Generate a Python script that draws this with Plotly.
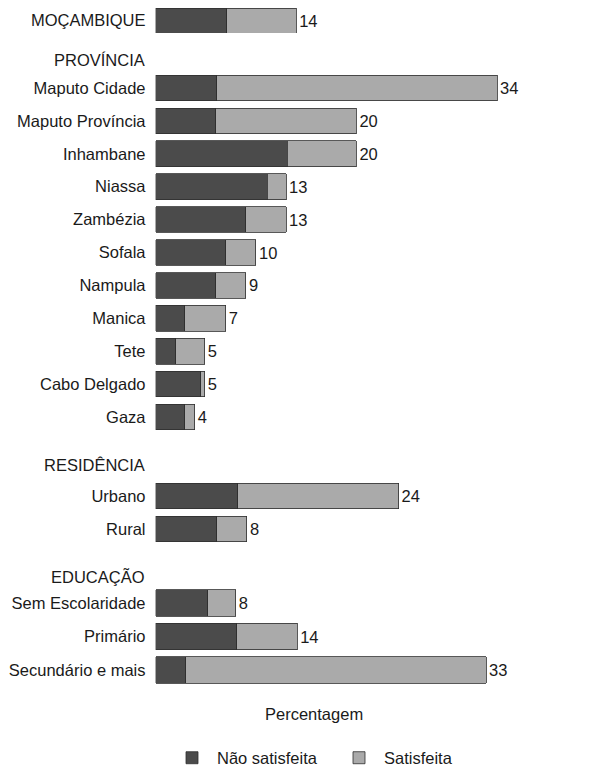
import plotly.graph_objects as go

# ---- data (percent) ----
nacional_cat = ["MOÇAMBIQUE"]
nacional_nao = [7.1]
nacional_sat = [6.9]
nacional_lbl = ["14"]

prov_header = "PROVÍNCIA"
prov_cat = ["Maputo Cidade", "Maputo Província", "Inhambane", "Niassa", "Zambézia",
            "Sofala", "Nampula", "Manica", "Tete", "Cabo Delgado", "Gaza"]
prov_nao = [6.1, 6.0, 13.1, 11.1, 9.0, 7.0, 6.0, 2.9, 2.0, 4.5, 2.9]
prov_sat = [27.9, 14.0, 6.9, 1.9, 4.0, 3.0, 3.0, 4.1, 2.9, 0.4, 1.0]
prov_lbl = ["34", "20", "20", "13", "13", "10", "9", "7", "5", "5", "4"]

res_header = "RESIDÊNCIA"
res_cat = ["Urbano", "Rural"]
res_nao = [8.2, 6.1]
res_sat = [16.0, 3.0]
res_lbl = ["24", "8"]

edu_header = "EDUCAÇÃO"
edu_cat = ["Sem Escolaridade", "Primário", "Secundário e mais"]
edu_nao = [5.2, 8.1, 3.0]
edu_sat = [2.8, 6.0, 29.9]
edu_lbl = ["8", "14", "33"]

DARK = "#4b4b4b"
LIGHT = "#aaaaaa"
FONT = "Liberation Sans, Arial, sans-serif"
FS = 16.5
TXT = "#1a1a1a"

W, H = 603, 764  # page has an 8px body margin

# (header, cats, nao, sat, labels, domain top/bottom px, header centre px, bar width)
groups = [
    (None, nacional_cat, nacional_nao, nacional_sat, nacional_lbl, (0, 25), None, 1.0),
    (prov_header, prov_cat, prov_nao, prov_sat, prov_lbl, (63.5, 425.5), 52, None),
    (res_header, res_cat, res_nao, res_sat, res_lbl, (471.5, 537.5), 457, None),
    (edu_header, edu_cat, edu_nao, edu_sat, edu_lbl, (578.25, 678.75), 568, None),
]

fig = go.Figure()
layout = {}
annotations = []
XL = 147.5
xdom = [XL / W, 589.5 / W]
for i, (hdr, cats, nao, sat, lbl, (top, bot), hy, bw) in enumerate(groups):
    n = "" if i == 0 else str(i + 1)
    xa, ya = "x" + n, "y" + n
    fig.add_trace(go.Bar(
        y=cats, x=nao, orientation="h", name="Não satisfeita", width=bw,
        marker=dict(color=DARK, line=dict(color="#2e2e2e", width=0.8)),
        xaxis=xa, yaxis=ya, showlegend=(i == 0), legendgroup="nao",
    ))
    fig.add_trace(go.Bar(
        y=cats, x=sat, orientation="h", name="Satisfeita", width=bw,
        marker=dict(color=LIGHT, line=dict(color="#2e2e2e", width=0.8)),
        text=lbl, textposition="outside", cliponaxis=False, constraintext="none",
        textfont=dict(family=FONT, size=FS, color=TXT),
        xaxis=xa, yaxis=ya, showlegend=(i == 0), legendgroup="sat",
    ))
    layout["xaxis" + n] = dict(domain=xdom, range=[0, 44], visible=False,
                                anchor=ya, automargin=False,
                                **({} if i == 0 else {"matches": "x"}))
    layout["yaxis" + n] = dict(
        domain=[1 - bot / H, 1 - top / H], anchor=xa, type="category",
        categoryorder="array", categoryarray=cats, range=[len(cats) - 0.5, -0.5],
        showgrid=False, zeroline=False, showline=False, ticks="", automargin=False,
        ticklabelstandoff=9, tickfont=dict(family=FONT, size=FS, color=TXT),
    )
    if hdr:
        annotations.append(dict(text=hdr, x=(XL - 9) / W, y=1 - hy / H, xref="paper", yref="paper",
                                showarrow=False, xanchor="right", yanchor="middle",
                                font=dict(family=FONT, size=FS, color=TXT)))

annotations.append(dict(text="Percentagem", x=306 / W, y=1 - 706 / H, xref="paper", yref="paper",
                        showarrow=False, xanchor="center", yanchor="middle",
                        font=dict(family=FONT, size=FS, color=TXT)))

fig.update_layout(**layout)
fig.update_layout(
    width=W, height=H, barmode="stack", bargap=0.22,
    margin=dict(l=0, r=0, t=0, b=0, autoexpand=False),
    paper_bgcolor="white", plot_bgcolor="white",
    font=dict(family=FONT, size=FS, color=TXT),
    legend=dict(orientation="h", x=159 / W, xanchor="left", y=1 - 750 / H, yanchor="middle",
                font=dict(family=FONT, size=FS, color=TXT), itemwidth=40,
                entrywidth=112, traceorder="normal"),
    annotations=annotations,
)

fig.write_html("out.html")
